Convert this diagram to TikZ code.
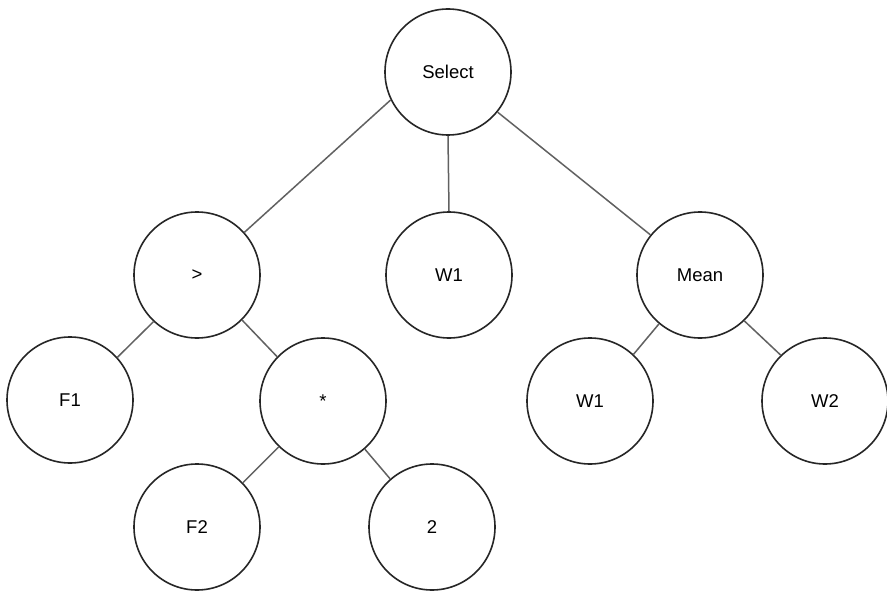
\documentclass[tikz,border=0pt]{standalone}
\usepackage{fontspec}
\setmainfont{Liberation Sans}
\begin{document}
\begin{tikzpicture}[x=1pt,y=-1pt,
  tnode/.style={circle,draw=black!85,line width=1.6pt,minimum size=126pt,inner sep=0pt,
    font=\fontsize{18.5}{20}\selectfont,text=black},
  edge/.style={draw=black!62,line width=1.5pt}]
\useasboundingbox[fill=white] (0,0) rectangle (887,591);
\node[tnode] (sel) at (448,72) {Select};
\node[tnode] (gt) at (197,275) {>};
\node[tnode] (w1a) at (449,275) {W1};
\node[tnode] (mean) at (700,275) {Mean};
\node[tnode] (f1) at (70,400) {F1};
\node[tnode] (mul) at (323,401) {*};
\node[tnode] (w1b) at (590,401) {W1};
\node[tnode] (w2) at (825,401) {W2};
\node[tnode] (f2) at (197,527) {F2};
\node[tnode] (two) at (432,527) {2};
\draw[edge] (sel.206) -- (gt.42);
\draw[edge] (sel.south) -- (w1a.north);
\draw[edge] (sel.-39) -- (mean.141);
\draw[edge] (gt.227) -- (f1.42);
\draw[edge] (gt.-45) -- (mul.136);
\draw[edge] (mul.226) -- (f2.44);
\draw[edge] (mul.-49) -- (two.131);
\draw[edge] (mean.230) -- (w1b.47);
\draw[edge] (mean.-46) -- (w2.134);
\end{tikzpicture}
\end{document}
